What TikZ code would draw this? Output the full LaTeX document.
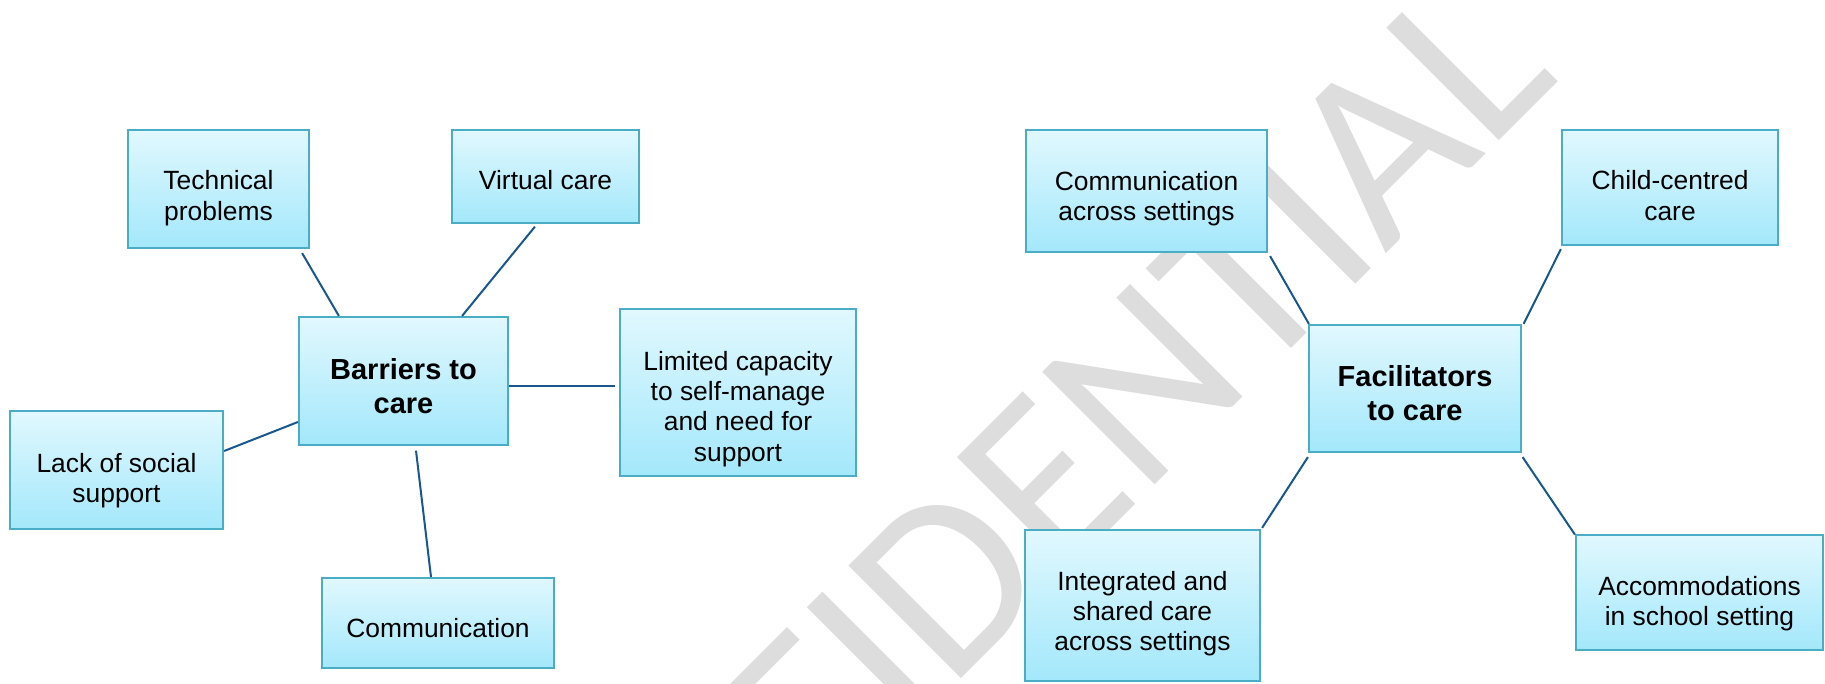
\documentclass[tikz,border=0pt]{standalone}
\usepackage{fontspec}
\setmainfont{Liberation Sans}
\newfontfamily\wmfont{Carlito}
\usetikzlibrary{calc}
\definecolor{boxtop}{RGB}{225,248,254}
\definecolor{boxbot}{RGB}{163,232,251}
\definecolor{boxline}{RGB}{75,172,198}
\definecolor{conn}{RGB}{24,88,142}
\definecolor{wmgray}{RGB}{221,221,221}
\begin{document}
\begin{tikzpicture}[x=1pt,y=-1pt,
  box/.style={rectangle, draw=boxline, line width=2.2pt, top color=boxtop, bottom color=boxbot, inner sep=0pt},
  txt/.style={inner sep=0pt, align=center, font=\fontsize{26.4}{30.3}\selectfont},
  hub/.style={inner sep=0pt, align=center, font=\bfseries\fontsize{29}{33.5}\selectfont},
  link/.style={draw=conn, line width=2pt}]
\useasboundingbox (0,0) rectangle (1825,683);
\clip (0,0) rectangle (1825,683);
\fill[white] (0,0) rectangle (1825,683);
% watermark
\node[rotate=45, anchor=base east, inner sep=0pt, text=wmgray, font=\wmfont\fontsize{248}{248}\selectfont] (wm) at (1561,79) {CONFIDENTIAL};
% boxes: barriers
\node[box, minimum width=181pt, minimum height=118pt] (tech) at (218.5,189) {};
\node[box, minimum width=187pt, minimum height=93pt] (virtual) at (545.5,176.5) {};
\node[box, minimum width=209pt, minimum height=128pt] (barriers) at (403.5,381) {};
\node[box, minimum width=213pt, minimum height=118pt] (lack) at (116.5,470) {};
\node[box, minimum width=232pt, minimum height=90pt] (comm) at (438,623) {};
\node[box, minimum width=236pt, minimum height=167pt] (limited) at (738,392.5) {};
% boxes: facilitators
\node[box, minimum width=241pt, minimum height=122pt] (across) at (1146.5,191) {};
\node[box, minimum width=216pt, minimum height=115pt] (child) at (1670,187.5) {};
\node[box, minimum width=212pt, minimum height=127pt] (facil) at (1415,388.5) {};
\node[box, minimum width=235pt, minimum height=151pt] (integ) at (1142.5,605.5) {};
\node[box, minimum width=247pt, minimum height=115pt] (accom) at (1699.5,592.5) {};
% texts
\node[txt] (tech-t) at (218.5,198.1) {Technical\\problems};
\node[txt] (virtual-t) at (545.5,179.9) {Virtual care};
\node[hub] (barriers-t) at (403.5,386.2) {Barriers to\\care};
\node[txt] (lack-t) at (116.5,480.4) {Lack of social\\support};
\node[txt] (comm-t) at (438,628.3) {Communication};
\node[txt] (limited-t) at (738,409) {Limited capacity\\to self-manage\\and need for\\support};
\node[txt] (across-t) at (1146.5,198.8) {Communication\\across settings};
\node[txt] (child-t) at (1670,195.5) {Child-centred\\care};
\node[hub] (facil-t) at (1415,393.1) {Facilitators\\to care};
\node[txt] (integ-t) at (1142.5,613.8) {Integrated and\\shared care\\across settings};
\node[txt] (accom-t) at (1699.5,603.8) {Accommodations\\in school setting};
% connectors
\draw[link] ($(tech.south east)+(-8,4)$) -- ($(barriers.north west)+(41,0)$);
\draw[link] ($(virtual.south west)+(84,2.6)$) -- ($(barriers.north east)+(-47,0)$);
\draw[link] ($(barriers.east)+(0,5)$) -- ($(limited.west)+(-3.5,-6.5)$);
\draw[link] ($(barriers.west)+(0,41)$) -- ($(lack.east)+(0,-19)$);
\draw[link] ($(barriers.south)+(12.5,4.5)$) -- ($(comm.north)+(-7,0)$);
\draw[link] ($(across.south east)+(2,3)$) -- ($(facil.north west)+(1,0)$);
\draw[link] ($(child.south west)+(0,3)$) -- ($(facil.north east)+(1.5,0)$);
\draw[link] ($(facil.south west)+(0,4)$) -- ($(integ.north east)+(1,-1)$);
\draw[link] ($(facil.south east)+(0.5,4)$) -- ($(accom.north west)+(0,0.7)$);
\end{tikzpicture}
\end{document}
